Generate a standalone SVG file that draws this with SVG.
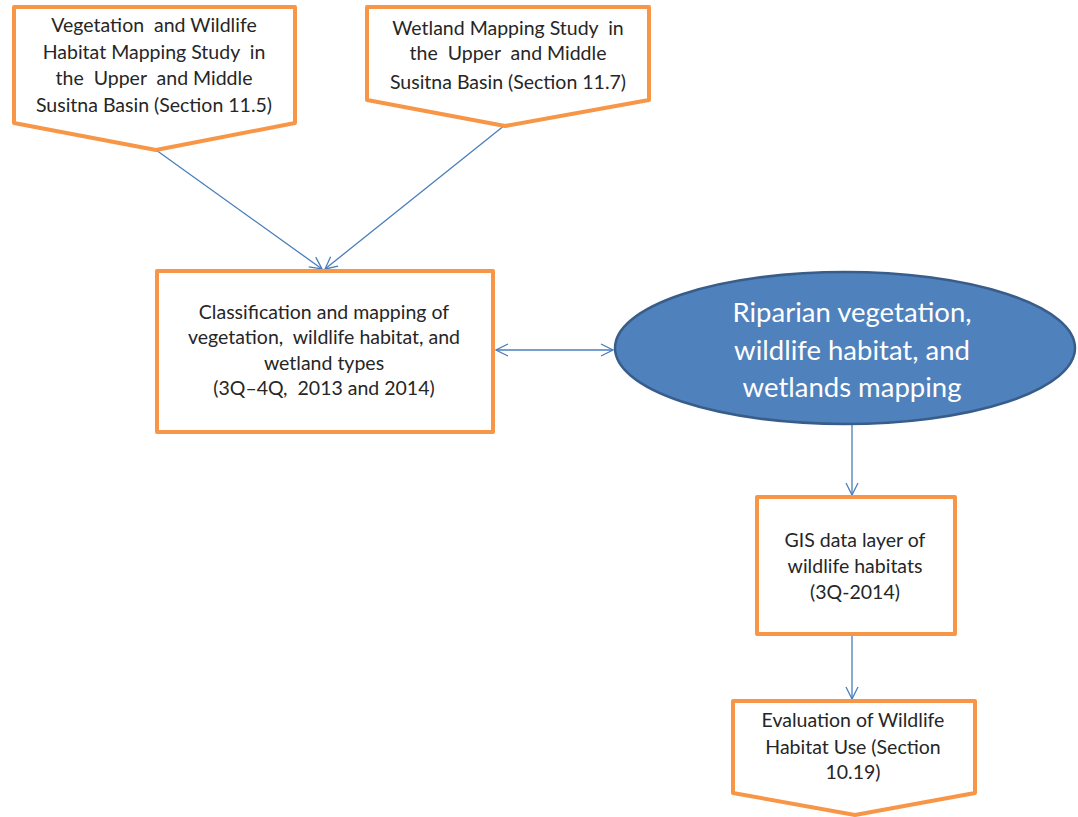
<svg xmlns="http://www.w3.org/2000/svg" width="1078" height="817" viewBox="0 0 1078 817">
  <style>
    .box { fill: #ffffff; stroke: #f79646; stroke-width: 4; stroke-linejoin: round; }
    .lbl { font-family: Lato, "Open Sans", "Liberation Sans", sans-serif; font-size: 19.5px; fill: #262626; text-anchor: middle; white-space: pre; }
    .big { font-family: Lato, "Open Sans", "Liberation Sans", sans-serif; font-size: 27.5px; fill: #ffffff; text-anchor: middle; }
    .link { fill: none; stroke: #4a7ebb; stroke-width: 1.3; }
  </style>
  <defs>
    <marker id="vhead" viewBox="0 0 14 14" refX="13" refY="7" markerWidth="14" markerHeight="14" markerUnits="userSpaceOnUse" orient="auto-start-reverse">
      <path d="M1,1 L13,7 L1,13" fill="none" stroke="#4a7ebb" stroke-width="1.3"/>
    </marker>
  </defs>

  <g id="connectors">
    <line class="link" x1="156" y1="150" x2="322" y2="269" marker-end="url(#vhead)"/>
    <line class="link" x1="505" y1="125" x2="325" y2="269" marker-end="url(#vhead)"/>
    <line class="link" x1="496" y1="350" x2="613" y2="350" marker-start="url(#vhead)" marker-end="url(#vhead)"/>
    <line class="link" x1="852" y1="425" x2="852" y2="495" marker-end="url(#vhead)"/>
    <line class="link" x1="852" y1="636" x2="852" y2="699" marker-end="url(#vhead)"/>
  </g>

  <g id="veg-study">
    <polygon class="box" points="14,7 295,7 295,123 156,150 14,123"/>
    <text class="lbl" x="154" y="32">Vegetation  and Wildlife</text>
    <text class="lbl" x="154" y="59">Habitat Mapping Study  in</text>
    <text class="lbl" x="154" y="85">the  Upper  and Middle</text>
    <text class="lbl" x="154" y="112">Susitna Basin (Section 11.5)</text>
  </g>

  <g id="wetland-study">
    <polygon class="box" points="367,7 649,7 649,100 505,126 367,100"/>
    <text class="lbl" x="508" y="35">Wetland Mapping Study  in</text>
    <text class="lbl" x="508" y="60">the  Upper  and Middle</text>
    <text class="lbl" x="508" y="89">Susitna Basin (Section 11.7)</text>
  </g>

  <g id="classification">
    <rect class="box" x="157" y="271" width="336" height="161"/>
    <text class="lbl" x="324" y="319">Classification and mapping of</text>
    <text class="lbl" x="324" y="344">vegetation,  wildlife habitat, and</text>
    <text class="lbl" x="324" y="370">wetland types</text>
    <text class="lbl" x="324" y="395">(3Q–4Q,  2013 and 2014)</text>
  </g>

  <g id="riparian">
    <ellipse cx="845" cy="348" rx="230" ry="76" fill="#4f81bd" stroke="#385d8a" stroke-width="2.5"/>
    <text class="big" x="852" y="322">Riparian vegetation,</text>
    <text class="big" x="852" y="360">wildlife habitat, and</text>
    <text class="big" x="852" y="397">wetlands mapping</text>
  </g>

  <g id="gis-layer">
    <rect class="box" x="757" y="497" width="198" height="137"/>
    <text class="lbl" x="855" y="547">GIS data layer of</text>
    <text class="lbl" x="855" y="573">wildlife habitats</text>
    <text class="lbl" x="855" y="599">(3Q-2014)</text>
  </g>

  <g id="habitat-use">
    <polygon class="box" points="733,701 975,701 975,793 855,815 733,793"/>
    <text class="lbl" x="853" y="727">Evaluation of Wildlife</text>
    <text class="lbl" x="853" y="754">Habitat Use (Section</text>
    <text class="lbl" x="853" y="779">10.19)</text>
  </g>
</svg>
